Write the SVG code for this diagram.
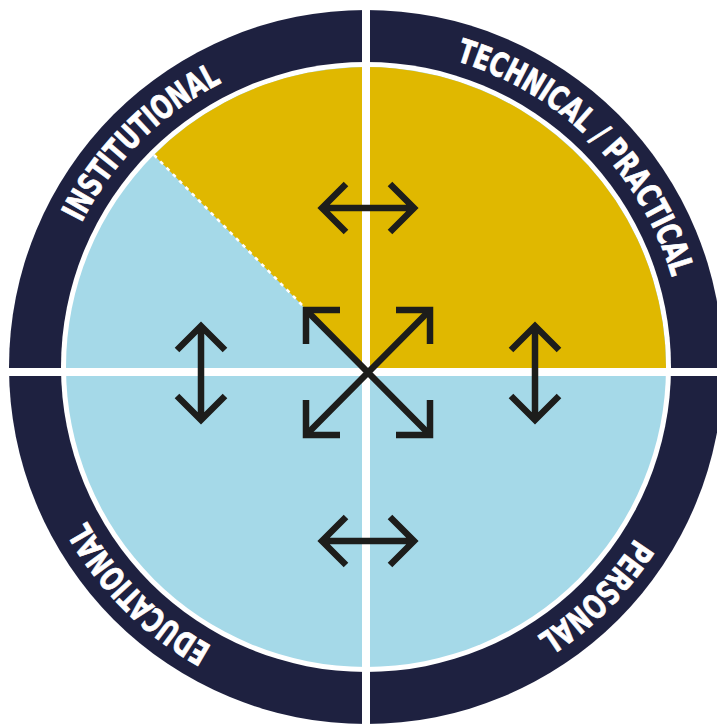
<svg xmlns="http://www.w3.org/2000/svg" width="717" height="727" viewBox="0 0 717 727">
<style>
.lbl{font-family:"Liberation Sans Narrow","DejaVu Sans Condensed","Liberation Sans",sans-serif;font-weight:bold;font-size:33px;fill:#ffffff;stroke:#ffffff;stroke-width:0.8;}
.arr{fill:none;stroke:#1d1d1b;stroke-width:6.5;stroke-linecap:butt;stroke-linejoin:miter;}
</style>
<defs>
<path id="pInst" d="M57.9,449.6 A319,319 0 0 1 448.6,58.9"/>
<path id="pTech" d="M283.4,58.9 A319,319 0 0 1 674.1,449.6"/>
<path id="pPers" d="M674.1,284.4 A319,319 0 0 1 283.4,675.1"/>
<path id="pEduc" d="M448.6,675.1 A319,319 0 0 1 57.9,284.4"/>
</defs>
<rect width="717" height="727" fill="#ffffff"/>
<g id="ring">
<circle cx="366" cy="367" r="357" fill="#1e2140"/>
<circle cx="366" cy="367" r="305" fill="#ffffff"/>
</g>
<g id="inner">
<circle cx="366" cy="367" r="300" fill="#a5d9e8"/>
<path d="M368,372 L153.9,154.9 A300,300 0 0 1 666,367 L666,372 Z" fill="#e0b800"/>
<line x1="153.9" y1="154.9" x2="302" y2="305" stroke="#ffffff" stroke-width="2.5" stroke-dasharray="4 5"/>
</g>
<g id="gaps" fill="#ffffff">
<rect x="362" y="0" width="8" height="727"/>
<rect x="0" y="368" width="717" height="8"/>
</g>
<g id="labels">
<g id="institutional"><text class="lbl"><textPath href="#pInst" startOffset="50%" text-anchor="middle" textLength="202" lengthAdjust="spacingAndGlyphs">INSTITUTIONAL</textPath></text></g>
<g id="technical"><text class="lbl"><textPath href="#pTech" startOffset="50%" text-anchor="middle" textLength="319" lengthAdjust="spacingAndGlyphs">TECHNICAL / PRACTICAL</textPath></text></g>
<g id="personal"><text class="lbl"><textPath href="#pPers" startOffset="50%" text-anchor="middle" textLength="140" lengthAdjust="spacingAndGlyphs">PERSONAL</textPath></text></g>
<g id="educational"><text class="lbl"><textPath href="#pEduc" startOffset="50%" text-anchor="middle" textLength="179" lengthAdjust="spacingAndGlyphs">EDUCATIONAL</textPath></text></g>
</g>
<g id="connectors">
<path class="arr" d="M321,208 L415,208 M346,184 L322,208 L346,232 M390,184 L414,208 L390,232"/>
<path class="arr" d="M321,541 L415,541 M346,517 L322,541 L346,565 M390,517 L414,541 L390,565"/>
<path class="arr" d="M201,326 L201,419 M177,350 L201,326 L225,350 M177,396 L201,420 L225,396"/>
<path class="arr" d="M535,326 L535,419 M511,350 L535,326 L559,350 M511,396 L535,420 L559,396"/>
<path class="arr" d="M308,312 L428,433 M428,312 L308,433"/>
<path class="arr" d="M340,310 L306,310 L306,344"/>
<path class="arr" d="M396,310 L430,310 L430,344"/>
<path class="arr" d="M340,435 L306,435 L306,400"/>
<path class="arr" d="M396,435 L430,435 L430,400"/>
</g>
</svg>
